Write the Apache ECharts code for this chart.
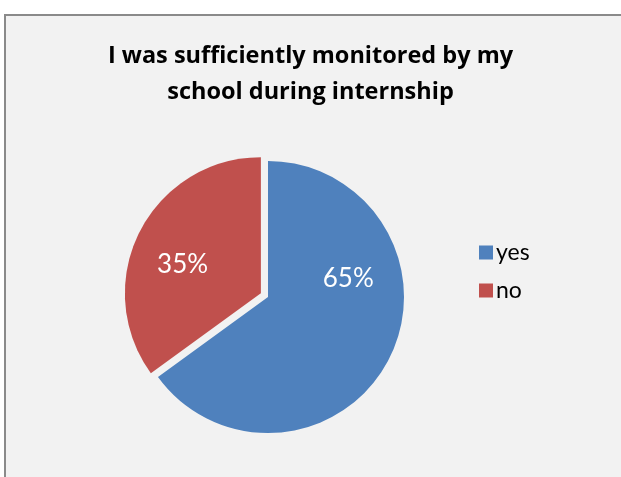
<!DOCTYPE html>
<html>
<head>
<meta charset="utf-8">
<script src="https://cdn.jsdelivr.net/npm/echarts@6/dist/echarts.min.js"></script>
<style>
    html, body { margin: 0; padding: 0; background: #fff; }
    #frame {
        position: absolute; left: 4px; top: 14px; width: 617px; height: 463px;
        box-sizing: border-box; background: #f2f2f2;
        border-top: 2px solid #8a8a8a; border-left: 2px solid #8a8a8a;
    }
    #chart { position: absolute; left: 0; top: 0; width: 621px; height: 477px; }
</style>
</head>
<body>
<div id="frame"></div>
<div id="chart"></div>
<script>
var titleText = 'I was sufficiently monitored by my\nschool during internship';
var categories = ['yes', 'no'];
var values = [65, 35];
var colors = ['#4f81bd', '#c0504d'];

// where excel put the labels, relative to echarts' inside spot
var labelShift = [[17, -51], [-15, 3]];

var chart = echarts.init(document.getElementById('chart'));

var pieData = [];
for (var i = 0; i < categories.length; i++) {
    pieData.push({
        name: categories[i],
        value: values[i],
        selected: i === 1,
        itemStyle: {color: colors[i]},
        label: {offset: labelShift[i]},
        select: {label: {offset: labelShift[i]}}
    });
}

chart.setOption({
    animation: false,
    backgroundColor: 'transparent',
    title: {
        text: titleText,
        left: 'center',
        top: 33,
        textStyle: {
            fontFamily: 'Open Sans', fontWeight: 'bold', fontSize: 23.5,
            lineHeight: 36, color: '#000'
        }
    },
    legend: {
        orient: 'vertical',
        left: 474, top: 236,
        icon: 'rect',
        itemWidth: 14, itemHeight: 14,
        itemGap: 15,
        selectedMode: false,
        data: categories,
        textStyle: {fontFamily: 'Lato', fontSize: 23, color: '#000', padding: [0, 0, 0, -2]}
    },
    series: [{
        type: 'pie',
        center: [268, 297],
        radius: 136,
        startAngle: 90,
        clockwise: true,
        selectedMode: 'single',
        selectedOffset: 8,
        emphasis: {disabled: true},
        label: {
            show: true,
            position: 'inside',
            formatter: '{d}%',
            color: '#fff',
            fontFamily: 'Lato',
            fontSize: 26
        },
        labelLine: {show: false},
        itemStyle: {borderWidth: 0},
        data: pieData
    }]
});
</script>
</body>
</html>
